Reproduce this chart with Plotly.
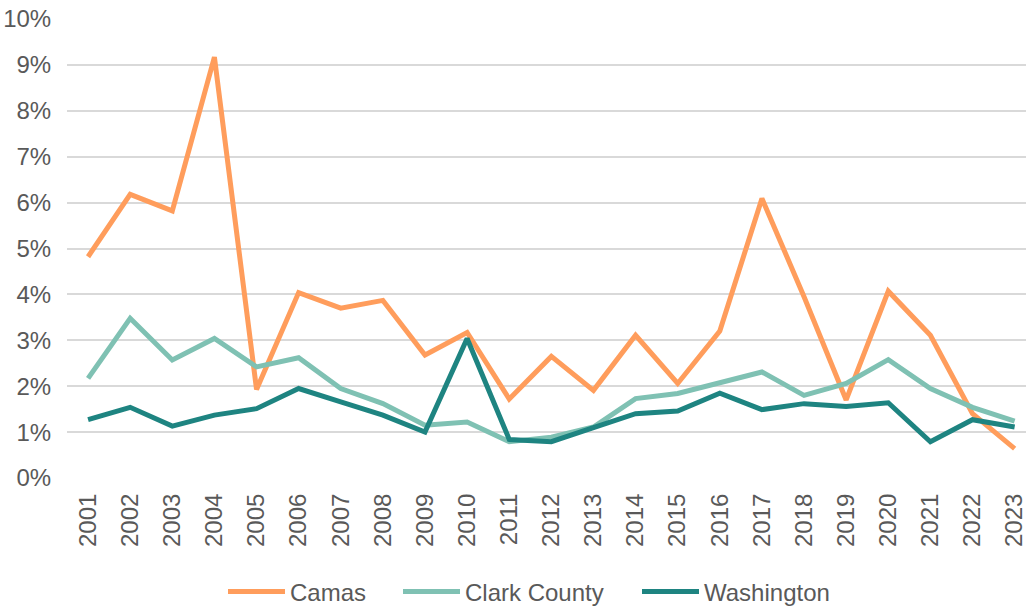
import plotly.graph_objects as go

years = [str(y) for y in range(2001, 2024)]
camas = [4.82, 6.18, 5.82, 9.17, 1.93, 4.04, 3.70, 3.87, 2.68, 3.17, 1.72, 2.65, 1.91,
         3.11, 2.06, 3.20, 6.09, 3.95, 1.70, 4.07, 3.11, 1.40, 0.64]
clark = [2.17, 3.48, 2.57, 3.04, 2.42, 2.62, 1.95, 1.62, 1.15, 1.22, 0.79, 0.89, 1.11,
         1.73, 1.84, 2.08, 2.31, 1.80, 2.06, 2.58, 1.95, 1.54, 1.24]
washington = [1.27, 1.54, 1.13, 1.37, 1.51, 1.95, 1.66, 1.37, 1.00, 3.04, 0.84, 0.79, 1.10,
              1.40, 1.46, 1.85, 1.49, 1.62, 1.56, 1.64, 0.79, 1.27, 1.11]
y_ticks = [0, 1, 2, 3, 4, 5, 6, 7, 8, 9, 10]

series = [("Camas", camas, "#FF9D5C", "legend", 229),
          ("Clark County", clark, "#7FC1B3", "legend2", 404),
          ("Washington", washington, "#1E8481", "legend3", 643)]

fig = go.Figure()
font = "Liberation Sans, Arial, sans-serif"
legends = {}
for name, vals, color, leg, sym_x in series:
    fig.add_trace(go.Scatter(
        x=years, y=[v / 100 for v in vals], name=name, mode="lines",
        line=dict(color=color, width=5, shape="linear"), legend=leg,
    ))
    legends[leg] = dict(orientation="h", xref="container", yref="container",
                        x=(sym_x - 6) / 1026, y=1 - 592 / 607,
                        xanchor="left", yanchor="middle",
                        font=dict(size=24, color="#595959"), itemwidth=57,
                        bgcolor="rgba(0,0,0,0)")

fig.update_layout(
    width=1026, height=607,
    margin=dict(l=67, r=0, t=19, b=129, autoexpand=False),
    paper_bgcolor="white", plot_bgcolor="white",
    font=dict(family=font, size=24, color="#595959"),
    showlegend=True,
    **legends,
)
fig.update_xaxes(
    type="category", range=[-0.5, 22.27], tickangle=-90, automargin=False,
    showgrid=False, zeroline=False, showline=False,
    ticks="outside", ticklen=5, tickcolor="rgba(0,0,0,0)",
    tickfont=dict(size=24, color="#595959"),
)
fig.update_yaxes(
    range=[0, 0.1], tickvals=[t / 100 for t in y_ticks], automargin=False,
    ticktext=[f"{t}%" for t in y_ticks],
    showgrid=True, gridcolor="#D9D9D9", gridwidth=1.5,
    zeroline=False, showline=False,
    ticks="outside", ticklen=10, tickcolor="rgba(0,0,0,0)",
    tickfont=dict(size=24, color="#595959"),
)
fig.write_html("out.html", config={"displayModeBar": False},
               post_script="document.body.style.margin='0';document.body.style.padding='0';")
